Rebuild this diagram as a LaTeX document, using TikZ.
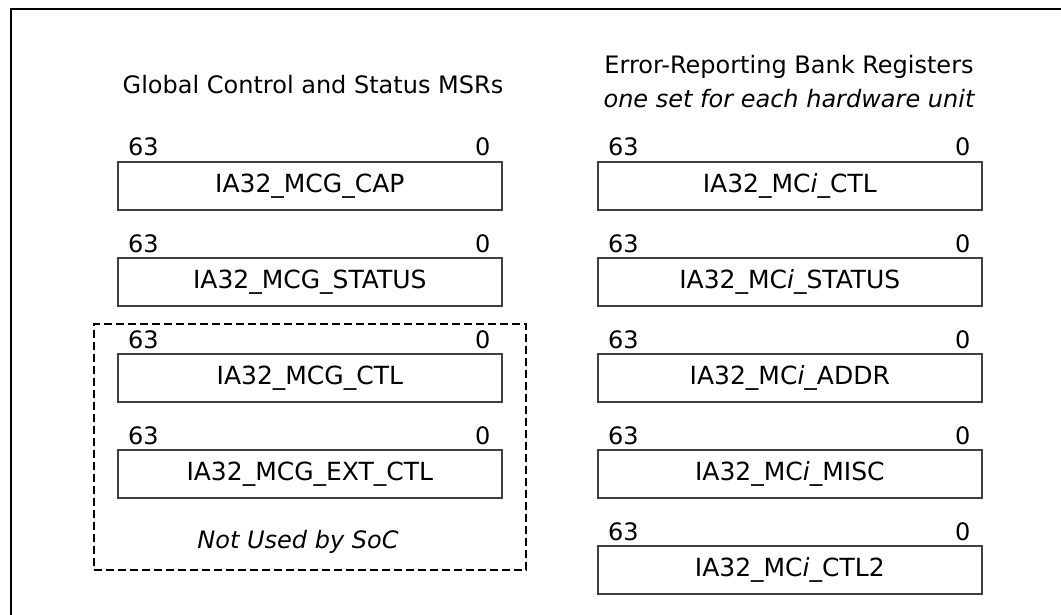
\documentclass[tikz,border=0pt]{standalone}
\usepackage{fontspec}
\setmainfont{DejaVu Sans}
\begin{document}
\begin{tikzpicture}[x=1pt,y=-1pt,
  every node/.style={font=\fontsize{24}{28}\selectfont, inner sep=0pt},
  regbox/.style={draw=black!75, line width=1.6pt, minimum width=384pt, minimum height=48pt, anchor=north west, font=\fontsize{25}{29}\selectfont},
  hibit/.style={anchor=base west, xshift=11pt, yshift=5pt},
  lobit/.style={anchor=base east, xshift=-12pt, yshift=5pt},
  frameline/.style={line width=2.6pt, black},
  groupbox/.style={draw=black, line width=1.8pt, dash pattern=on 8pt off 4pt, minimum width=432pt, minimum height=246pt, anchor=north west},
  title/.style={anchor=center}
]
\useasboundingbox (0,0) rectangle (1061,615);
\draw[frameline] (11,616) -- (11,9) -- (1062,9);

% titles
\node[title] (lt) at (313,85) {Global Control and Status MSRs};
\node[title] (rt1) at (789,67) {Error-Reporting Bank Registers};
\node[title] (rt2) at (789,99) {\itshape one set for each hardware unit};

% group box
\node[groupbox] (grp) at (93,323) {};
\node (nu) at (298,542) {\itshape Not Used by SoC};

% left column
\node[regbox] (cap) at (117,161) {IA32\_MCG\_CAP};
\node[regbox] (gst) at (117,257) {IA32\_MCG\_STATUS};
\node[regbox] (gctl) at (117,353) {IA32\_MCG\_CTL};
\node[regbox] (ext) at (117,449) {IA32\_MCG\_EXT\_CTL};

% right column
\node[regbox] (ctl) at (597,161) {IA32\_MC\textit{i}\_CTL};
\node[regbox] (st) at (597,257) {IA32\_MC\textit{i}\_STATUS};
\node[regbox] (addr) at (597,353) {IA32\_MC\textit{i}\_ADDR};
\node[regbox] (misc) at (597,449) {IA32\_MC\textit{i}\_MISC};
\node[regbox] (ctl2) at (597,545) {IA32\_MC\textit{i}\_CTL2};

\foreach \b in {cap,gst,gctl,ext,ctl,st,addr,misc,ctl2}{
  \node[hibit] (\b-hi) at (\b.north west) {63};
  \node[lobit] (\b-lo) at (\b.north east) {0};
}
\end{tikzpicture}
\end{document}
